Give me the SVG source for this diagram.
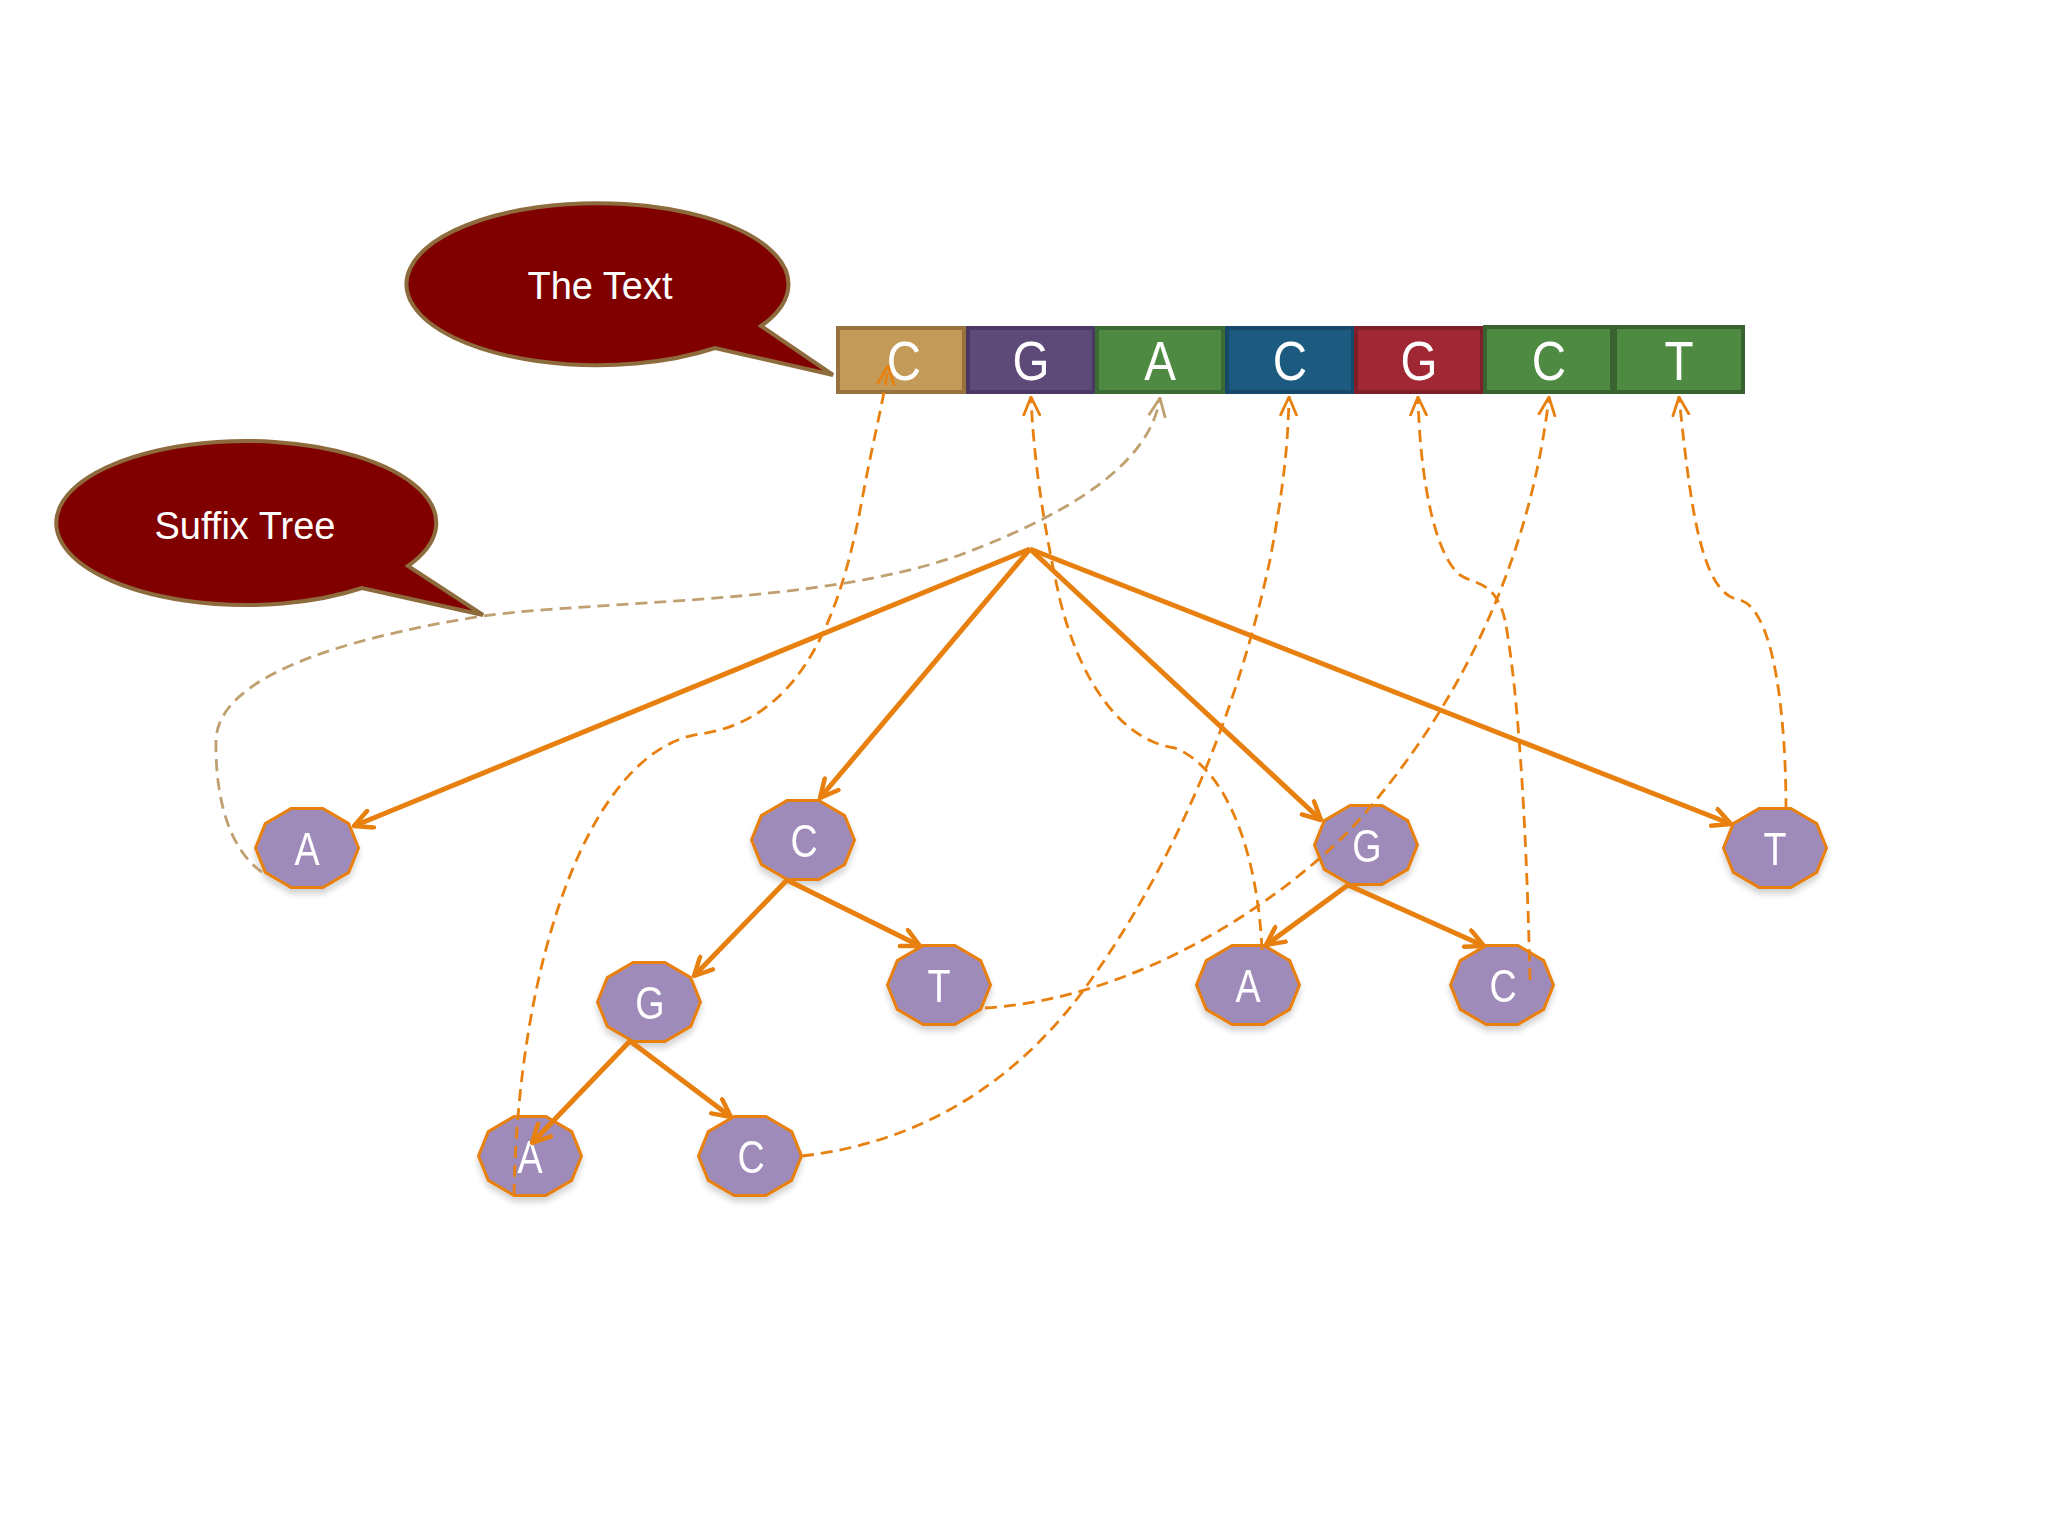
<svg xmlns="http://www.w3.org/2000/svg" xmlns:xlink="http://www.w3.org/1999/xlink" width="2048" height="1536" viewBox="0 0 2048 1536">
<style>
.bub{fill:#800000;stroke:#8E6B3C;stroke-width:4}
.bubt{fill:#fff;font-family:"Liberation Sans",Arial,sans-serif;font-size:38px;text-anchor:middle}
.cellt{fill:#fff;font-family:"Liberation Sans Narrow","Liberation Sans",Arial,sans-serif;font-size:56px;text-anchor:middle}
.node{fill:#9F8BBA;stroke:#E8800F;stroke-width:3}
.nodet{fill:#fff;font-family:"Liberation Sans Narrow","Liberation Sans",Arial,sans-serif;font-size:46px;text-anchor:middle}
.edge{stroke:#E8800F;stroke-width:5;fill:none;marker-end:url(#ah)}
.dash{stroke:#E8800F;stroke-width:2.8;fill:none;stroke-dasharray:12 7;marker-end:url(#dh)}
.dasht{stroke:#C0A070;stroke-width:2.8;fill:none;stroke-dasharray:12 7;marker-end:url(#dht)}
</style>
<defs>
<polygon id="deca" points="51.5,0 41.7,24.4 15.9,39.5 -15.9,39.5 -41.7,24.4 -51.5,0 -41.7,-24.4 -15.9,-39.5 15.9,-39.5 41.7,-24.4"/>
<marker id="ah" viewBox="0 0 22 22" refX="20" refY="11" markerWidth="22" markerHeight="22" markerUnits="userSpaceOnUse" orient="auto">
<path d="M2,2 L20,11 L2,20" fill="none" stroke="#E8800F" stroke-width="4.5" stroke-linecap="round" stroke-linejoin="round"/>
</marker>
<marker id="dh" viewBox="0 0 20 20" refX="19" refY="10" markerWidth="20" markerHeight="20" markerUnits="userSpaceOnUse" orient="auto">
<path d="M1,2 L19,10 L1,18" fill="none" stroke="#E8800F" stroke-width="2.8" stroke-linecap="round"/>
</marker>
<marker id="dht" viewBox="0 0 20 20" refX="19" refY="10" markerWidth="20" markerHeight="20" markerUnits="userSpaceOnUse" orient="auto">
<path d="M1,2 L19,10 L1,18" fill="none" stroke="#C0A070" stroke-width="2.8" stroke-linecap="round"/>
</marker>
<filter id="sh" x="-30%" y="-30%" width="160%" height="170%">
<feGaussianBlur in="SourceAlpha" stdDeviation="3"/>
<feOffset dy="5"/>
<feComponentTransfer><feFuncA type="linear" slope="0.18"/></feComponentTransfer>
<feMerge><feMergeNode/><feMergeNode in="SourceGraphic"/></feMerge>
</filter>
</defs>
<rect width="2048" height="1536" fill="#fff"/>

<g id="bubble-text">
<path class="bub" d="M761,326 A191,81 0 1 0 715,348 L833,375 Z"/>
<text class="bubt" x="600" y="299">The Text</text>
</g>
<g id="bubble-suffix">
<path class="bub" d="M408,566 A190,82 0 1 0 362,588 L483,615 Z"/>
<text class="bubt" x="245" y="539">Suffix Tree</text>
</g>

<g id="text-bar">
<g id="cell1"><rect x="838" y="328" width="126" height="64" fill="#C49A58" stroke="#97723F" stroke-width="4"/><text class="cellt" transform="translate(904,380) scale(0.85,1)">C</text></g>
<g id="cell2"><rect x="968" y="328" width="126" height="64" fill="#5E4A78" stroke="#4A3862" stroke-width="4"/><text class="cellt" transform="translate(1031,380) scale(0.85,1)">G</text></g>
<g id="cell3"><rect x="1097" y="328" width="126" height="64" fill="#4F8A43" stroke="#3C6B33" stroke-width="4"/><text class="cellt" transform="translate(1160,380) scale(0.85,1)">A</text></g>
<g id="cell4"><rect x="1227" y="328" width="126" height="64" fill="#1D5A7F" stroke="#164868" stroke-width="4"/><text class="cellt" transform="translate(1290,380) scale(0.85,1)">C</text></g>
<g id="cell5"><rect x="1356" y="328" width="126" height="64" fill="#A02734" stroke="#7E1E28" stroke-width="4"/><text class="cellt" transform="translate(1419,380) scale(0.85,1)">G</text></g>
<g id="cell6"><rect x="1485" y="327" width="127" height="65" fill="#4F8A43" stroke="#386330" stroke-width="4"/><text class="cellt" transform="translate(1549,380) scale(0.85,1)">C</text></g>
<g id="cell7"><rect x="1615" y="327" width="128" height="65" fill="#4F8A43" stroke="#386330" stroke-width="4"/><text class="cellt" transform="translate(1679,380) scale(0.85,1)">T</text></g>
</g>

<g id="n-A1" filter="url(#sh)"><use xlink:href="#deca" class="node" x="307" y="848"/><text class="nodet" transform="translate(307,865) scale(0.82,1)">A</text></g>
<g id="n-C1" filter="url(#sh)"><use xlink:href="#deca" class="node" x="803" y="840"/><text class="nodet" transform="translate(804,857) scale(0.82,1)">C</text></g>
<g id="n-G1" filter="url(#sh)"><use xlink:href="#deca" class="node" x="1366" y="845"/><text class="nodet" transform="translate(1367,862) scale(0.82,1)">G</text></g>
<g id="n-T1" filter="url(#sh)"><use xlink:href="#deca" class="node" x="1775" y="848"/><text class="nodet" transform="translate(1775,865) scale(0.82,1)">T</text></g>
<g id="n-G2" filter="url(#sh)"><use xlink:href="#deca" class="node" x="649" y="1002"/><text class="nodet" transform="translate(650,1019) scale(0.82,1)">G</text></g>
<g id="n-T2" filter="url(#sh)"><use xlink:href="#deca" class="node" x="939" y="985"/><text class="nodet" transform="translate(939,1002) scale(0.82,1)">T</text></g>
<g id="n-A2" filter="url(#sh)"><use xlink:href="#deca" class="node" x="1248" y="985"/><text class="nodet" transform="translate(1248,1002) scale(0.82,1)">A</text></g>
<g id="n-C2" filter="url(#sh)"><use xlink:href="#deca" class="node" x="1502" y="985"/><text class="nodet" transform="translate(1503,1002) scale(0.82,1)">C</text></g>
<g id="n-A3" filter="url(#sh)"><use xlink:href="#deca" class="node" x="530" y="1156"/><text class="nodet" transform="translate(530,1173) scale(0.82,1)">A</text></g>
<g id="n-C3" filter="url(#sh)"><use xlink:href="#deca" class="node" x="750" y="1156"/><text class="nodet" transform="translate(751,1173) scale(0.82,1)">C</text></g>

<g id="connectors">
<path class="edge" d="M1030,549 L354,826"/>
<path class="edge" d="M1030,549 L820,798"/>
<path class="edge" d="M1030,549 L1321,820"/>
<path class="edge" d="M1030,549 L1731,824"/>
<path class="edge" d="M787,880 L694,976"/>
<path class="edge" d="M787,880 L920,946"/>
<path class="edge" d="M630,1041 L532,1143"/>
<path class="edge" d="M630,1041 L731,1117"/>
<path class="edge" d="M1348,885 L1266,945"/>
<path class="edge" d="M1348,885 L1484,946"/>

<path class="dash" d="M514,1196 C518,960 590,750 700,734 C800,720 840,620 862,500 C875,430 884,400 888,366"/>
<path class="dash" d="M1262,950 C1258,860 1230,770 1175,748 C1120,740 1080,680 1060,600 C1042,520 1033,450 1031,397"/>
<path class="dasht" d="M262,872 C230,850 215,800 216,740 C218,680 330,640 483,616 C600,600 820,605 960,555 C1080,510 1150,460 1160,398"/>
<path class="dash" d="M802,1156 C900,1145 1000,1100 1080,995 C1180,860 1240,700 1270,560 C1285,480 1288,440 1289,397"/>
<path class="dash" d="M985,1008 C1120,1000 1260,920 1350,830 C1460,710 1530,560 1549,397"/>
<path class="dash" d="M1530,980 C1527,850 1520,700 1505,620 C1495,580 1475,585 1460,575 C1435,555 1420,480 1418,397"/>
<path class="dash" d="M1786,810 C1786,720 1775,610 1740,600 C1700,595 1690,500 1679,397"/>
</g>
</svg>
